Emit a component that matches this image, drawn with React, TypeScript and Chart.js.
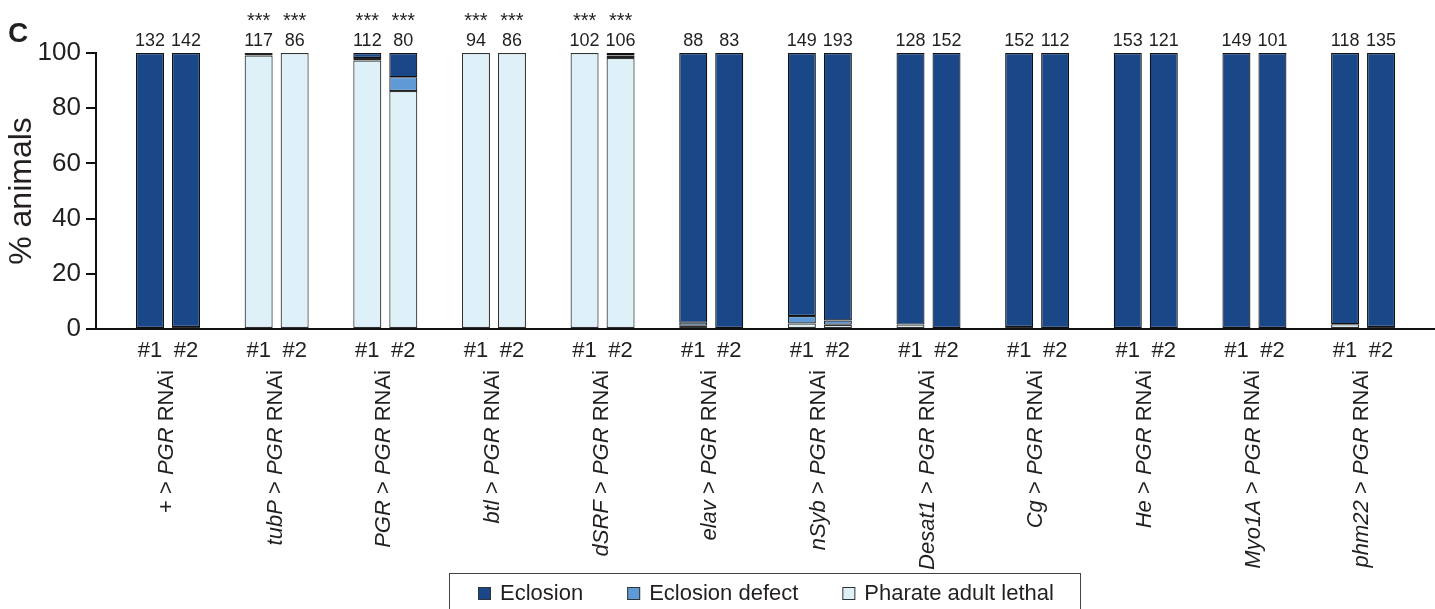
import React, { useEffect, useRef } from 'react';
import { Chart, registerables } from 'chart.js';

Chart.register(...registerables);

const FONT = '"Liberation Sans", Arial, Helvetica, sans-serif';
const TEXT = '#231f20';

// Genotypes (driver > PGR RNAi)
const drivers = ['+', 'tubP', 'PGR', 'btl', 'dSRF', 'elav', 'nSyb', 'Desat1', 'Cg', 'He', 'Myo1A', 'phm22'];
const lineLabels = ['#1', '#2'];
const yTicks = [0, 20, 40, 60, 80, 100];

// Animal counts above each bar
const n1 = [132, 117, 112, 94, 102, 88, 149, 128, 152, 153, 149, 118];
const n2 = [142, 86, 80, 86, 106, 83, 193, 152, 112, 121, 101, 135];
const sig = ['', '***', '***', '***', '***', '', '', '', '', '', '', ''];

// Percentages, line #1
const eclosion1 = [100, 0, 1.8, 0, 0, 97.7, 95.3, 98.4, 99.3, 100, 100, 98.3];
const defect1 = [0, 0.9, 0.9, 0, 0, 1.1, 2.7, 0, 0, 0, 0, 0];
const lethal1 = [0, 99.1, 97.3, 100, 100, 1.2, 2.0, 1.6, 0.7, 0, 0, 1.7];
// Percentages, line #2
const eclosion2 = [99.3, 0, 8.75, 0, 0.9, 100, 96.9, 100, 100, 100, 100, 99.3];
const defect2 = [0, 0, 5, 0, 0.9, 0, 1.55, 0, 0, 0, 0, 0];
const lethal2 = [0.7, 100, 86.25, 100, 98.2, 0, 1.55, 0, 0, 0, 0, 0.7];

const C_ECL = '#1a4787';
const C_DEF = '#5f9ad6';
const C_LET = '#dff1f8';

function ds(label: string, values: number[], stack: string, bg: string, border: string) {
  return {
    label,
    data: values.map((v, i) => ({ x: i, y: v })),
    stack,
    backgroundColor: bg,
    borderColor: border,
    borderWidth: 1.2,
    borderSkipped: false as const,
    categoryPercentage: 0.6628,
    barPercentage: 0.778,
  };
}

const annotations = {
  id: 'annotations',
  afterDraw(chart: any) {
    const ctx: CanvasRenderingContext2D = chart.ctx;
    const y = chart.scales.y;
    const topY = y.getPixelForValue(100);
    const metaA = chart.getDatasetMeta(0);
    const metaB = chart.getDatasetMeta(3);
    ctx.save();
    ctx.fillStyle = TEXT;

    // Panel letter
    ctx.font = `bold 28px ${FONT}`;
    ctx.textAlign = 'left';
    ctx.textBaseline = 'alphabetic';
    ctx.fillText('C', 8, 42);

    drivers.forEach((d, i) => {
      const xa = metaA.data[i].x;
      const xb = metaB.data[i].x;
      // counts
      ctx.font = `18px ${FONT}`;
      ctx.textAlign = 'center';
      ctx.textBaseline = 'alphabetic';
      ctx.fillText(String(n1[i]), xa, topY - 7);
      ctx.fillText(String(n2[i]), xb, topY - 7);
      if (sig[i]) {
        ctx.font = `20px ${FONT}`;
        ctx.fillText(sig[i], xa, 27);
        ctx.fillText(sig[i], xb, 27);
      }
      // line labels
      ctx.font = `22px ${FONT}`;
      ctx.fillText(lineLabels[0], xa, 357);
      ctx.fillText(lineLabels[1], xb, 357);

      // rotated genotype label
      const segs: [string, boolean][] = [
        [d, d !== '+'],
        [' > ', false],
        ['PGR', true],
        [' RNAi', false],
      ];
      const fontOf = (it: boolean) => `${it ? 'italic ' : ''}22px ${FONT}`;
      let total = 0;
      segs.forEach(([t, it]) => {
        ctx.font = fontOf(it);
        total += ctx.measureText(t).width;
      });
      ctx.save();
      ctx.translate((xa + xb) / 2 - 1, 370);
      ctx.rotate(-Math.PI / 2);
      ctx.textAlign = 'left';
      ctx.textBaseline = 'middle';
      let pos = -total;
      segs.forEach(([t, it]) => {
        ctx.font = fontOf(it);
        ctx.fillText(t, pos, 0);
        pos += ctx.measureText(t).width;
      });
      ctx.restore();
    });

    // Legend
    ctx.strokeStyle = '#444';
    ctx.lineWidth = 1;
    ctx.strokeRect(449.5, 573.5, 631, 60);
    const items = [chart.data.datasets[2], chart.data.datasets[1], chart.data.datasets[0]];
    let lx = 478;
    const ly = 594;
    ctx.font = `22px ${FONT}`;
    ctx.textAlign = 'left';
    ctx.textBaseline = 'middle';
    items.forEach((it: any) => {
      ctx.fillStyle = it.backgroundColor;
      ctx.fillRect(lx, ly - 7, 13, 13);
      ctx.strokeStyle = '#333';
      ctx.strokeRect(lx + 0.5, ly - 6.5, 12, 12);
      ctx.fillStyle = TEXT;
      ctx.fillText(it.label, lx + 22, ly);
      lx += 22 + ctx.measureText(it.label).width + 44;
    });
    ctx.restore();
  },
};

export default function App() {
  const ref = useRef<HTMLCanvasElement>(null);
  useEffect(() => {
    if (!ref.current) return;
    const chart = new Chart(ref.current, {
      type: 'bar',
      data: {
        datasets: [
          ds('Pharate adult lethal', lethal1, '1', C_LET, '#333'),
          ds('Eclosion defect', defect1, '1', C_DEF, '#222'),
          ds('Eclosion', eclosion1, '1', C_ECL, '#111'),
          ds('Pharate adult lethal', lethal2, '2', C_LET, '#333'),
          ds('Eclosion defect', defect2, '2', C_DEF, '#222'),
          ds('Eclosion', eclosion2, '2', C_ECL, '#111'),
        ] as any,
      },
      options: {
        responsive: false,
        animation: false,
        layout: { padding: { top: 53, left: 0, right: 0, bottom: 0 } },
        plugins: { legend: { display: false }, tooltip: { enabled: false } },
        scales: {
          x: {
            type: 'linear',
            offset: false,
            stacked: true,
            min: -0.6628,
            max: 11.662,
            grid: { display: false },
            ticks: { display: false },
            border: { display: true, color: '#111', width: 2 },
            afterBuildTicks: (s: any) => {
              s.ticks = drivers.map((_, i) => ({ value: i }));
            },
            afterFit: (s: any) => {
              s.height = 280;
            },
          },
          y: {
            type: 'linear',
            stacked: true,
            min: 0,
            max: 100,
            afterBuildTicks: (s: any) => {
              s.ticks = yTicks.map((v) => ({ value: v }));
            },
            ticks: { font: { family: FONT, size: 26 }, color: TEXT, padding: 5 },
            grid: { display: true, drawOnChartArea: false, drawTicks: true, tickLength: 10, lineWidth: 2, color: '#111' },
            border: { display: true, color: '#111', width: 2 },
            title: {
              display: true,
              text: '% animals',
              font: { family: FONT, size: 32 },
              color: TEXT,
              padding: { top: 3, bottom: 0 },
            },
            afterFit: (s: any) => {
              s.width = 96;
            },
          },
        },
      } as any,
      plugins: [annotations],
    });
    return () => chart.destroy();
  }, []);
  return (
    <div style={{ position: 'absolute', left: 0, top: 0, width: 1435, height: 609, background: '#fff' }}>
      <canvas ref={ref} width={1435} height={609} style={{ display: 'block' }} />
    </div>
  );
}
